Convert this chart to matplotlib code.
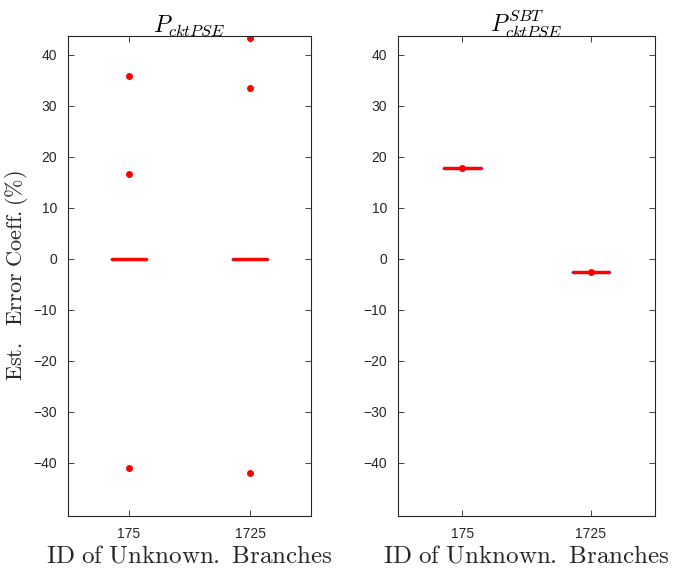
import numpy as np
import matplotlib
matplotlib.use('Agg')
import matplotlib.pyplot as plt

plt.rcParams['mathtext.fontset'] = 'cm'
plt.rcParams['font.family'] = ['Liberation Sans', 'DejaVu Sans']

categories = ['175', '1725']

# left panel: error coefficients, nearly all zero with a few outliers
left_175 = [0.0] * 20 + [35.8, 16.7, -41.0]
left_1725 = [0.0] * 20 + [43.4, 33.5, -42.0]

# right panel: all estimates equal
right_175 = [17.8] * 20
right_1725 = [-2.6] * 20
right_marks = [17.8, -2.6]

titles = [r'$P_{cktPSE}$', r'$P_{cktPSE}^{SBT}$']
xlabel = r'$\mathrm{ID\ of\ Unknown.\ Branches}$'
ylabel = r'$\mathrm{Est.\ \ Error\ Coeff.(\%)}$'

fig = plt.figure(figsize=(6.76, 5.72), dpi=100)
ax1 = fig.add_axes([0.1006, 0.0979, 0.3595, 0.839])
ax2 = fig.add_axes([0.5888, 0.0979, 0.3802, 0.839])

def draw(ax, data, title):
    ax.boxplot(data, positions=[1, 2], widths=0.3, whis=1.5,
               boxprops=dict(color='blue', linewidth=1.0),
               medianprops=dict(color='red', linewidth=2.5),
               whiskerprops=dict(color='black', linestyle='--', linewidth=0.8),
               capprops=dict(color='black', linewidth=0.8),
               flierprops=dict(marker='o', markerfacecolor='red', markeredgecolor='red',
                               markersize=4))
    ax.set_xlim(0.5, 2.5)
    ax.set_ylim(-50.4, 43.7)
    ax.set_yticks(np.arange(-40, 41, 10))
    ax.set_xticks([1, 2])
    ax.set_xticklabels(categories)
    ax.tick_params(direction='in', top=True, right=True, labelsize=10,
                   colors='#262626', length=4, width=0.6, pad=8)
    for s in ax.spines.values():
        s.set_color('#262626')
        s.set_linewidth(0.8)
    ax.set_title(title, fontsize=17, pad=3)
    ax.set_xlabel(xlabel, fontsize=18, labelpad=2, color='#262626')

draw(ax1, [left_175, left_1725], titles[0])
draw(ax2, [right_175, right_1725], titles[1])
ax2.plot([1, 2], right_marks, 'o', color='red', markersize=4)
ax1.set_ylabel(ylabel, fontsize=16, color='#262626', labelpad=2)

fig.savefig('out.png', dpi=100)
